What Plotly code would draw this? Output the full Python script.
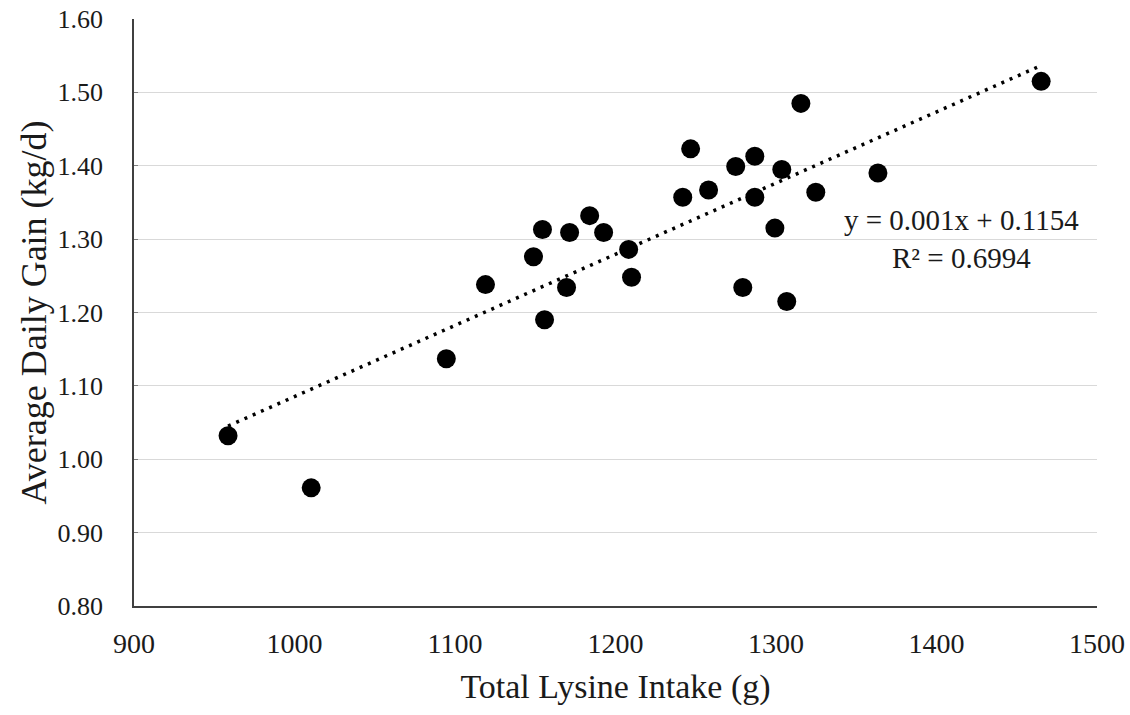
import plotly.graph_objects as go

# Total lysine intake (g) and average daily gain (kg/d) per pen
lysine_intake = [958.6, 1010.4, 1094.6, 1119.0, 1148.9, 1154.5, 1155.8, 1169.5,
                 1171.4, 1183.9, 1192.6, 1208.2, 1210.0, 1241.9, 1246.8, 1258.0,
                 1274.9, 1279.3, 1286.8, 1286.8, 1299.3, 1303.6, 1306.7, 1315.5,
                 1324.8, 1363.5, 1465.2]
daily_gain = [1.032, 0.961, 1.137, 1.238, 1.276, 1.313, 1.190, 1.234,
              1.309, 1.332, 1.309, 1.286, 1.248, 1.357, 1.423, 1.367,
              1.399, 1.234, 1.413, 1.357, 1.315, 1.395, 1.215, 1.485,
              1.364, 1.390, 1.515]

# Linear trend line coefficients
trend_slope = 0.00097
trend_intercept = 0.1154
trend_r2 = 0.6994

x_ticks = [900, 1000, 1100, 1200, 1300, 1400, 1500]
y_ticks = [0.80, 0.90, 1.00, 1.10, 1.20, 1.30, 1.40, 1.50, 1.60]

x_min, x_max = min(lysine_intake), max(lysine_intake)
trend_x = [x_min, x_max]
trend_y = [trend_slope * v + trend_intercept for v in trend_x]

font_family = "Liberation Serif, Times New Roman, serif"

fig = go.Figure()
fig.add_trace(go.Scatter(
    x=trend_x, y=trend_y, mode="lines",
    line=dict(color="black", width=3.5, dash="3px,6px"),
    hoverinfo="skip", showlegend=False,
))
fig.add_trace(go.Scatter(
    x=lysine_intake, y=daily_gain, mode="markers",
    marker=dict(color="black", size=19, line=dict(width=0)),
    showlegend=False,
))

fig.add_annotation(
    x=1415.3, y=1.300, xref="x", yref="y",
    text=f"y = {trend_slope:.3f}x + {trend_intercept:.4f}<br>R² = {trend_r2:.4f}",
    showarrow=False, align="center", xanchor="center", yanchor="middle",
    font=dict(family=font_family, size=29, color="#1a1a1a"),
)

fig.update_layout(
    width=1130, height=715,
    margin=dict(l=134, r=33, t=19, b=109),
    paper_bgcolor="white", plot_bgcolor="white",
    font=dict(family=font_family, color="#1a1a1a"),
    xaxis=dict(
        range=[900, 1500], tickvals=x_ticks, ticktext=[str(v) for v in x_ticks],
        showgrid=False, zeroline=False, automargin=False,
        showline=True, linecolor="#404040", linewidth=1.5,
        ticks="", ticklabelstandoff=12,
        tickfont=dict(size=28),
        title=dict(text="Total Lysine Intake (g)", font=dict(size=34), standoff=16),
    ),
    yaxis=dict(
        range=[0.80, 1.60], tickvals=y_ticks, ticktext=[f"{v:.2f}" for v in y_ticks],
        showgrid=True, gridcolor="#d9d9d9", gridwidth=1, zeroline=False,
        automargin=False,
        showline=True, linecolor="#404040", linewidth=1.5,
        ticks="inside", ticklen=4, tickcolor="#808080",
        ticklabelstandoff=24,
        tickfont=dict(size=26),
        title=dict(text="Average Daily Gain (kg/d)", font=dict(size=36), standoff=0),
    ),
)

fig.write_html("out.html")
